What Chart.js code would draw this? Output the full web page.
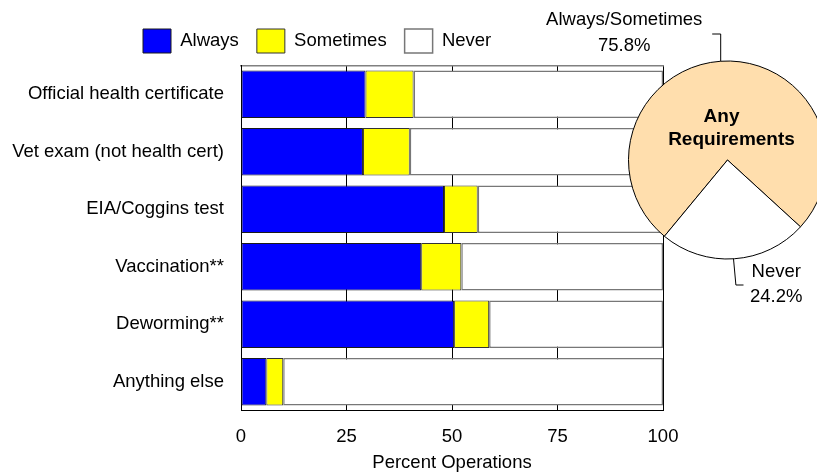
<!DOCTYPE html>
<html>
<head>
<meta charset="utf-8">
<script src="https://cdn.jsdelivr.net/npm/chart.js@4"></script>
<style>
  html, body { margin: 0; padding: 0; background: #fff; overflow: hidden; }
  #wrap { position: relative; width: 817px; height: 474px; overflow: hidden; }
  #bars { position: absolute; left: 0; top: 0; }
  #pie { position: absolute; left: 0; top: 0; pointer-events: none; }
</style>
</head>
<body>
<div id="wrap">
  <canvas id="bars" width="817" height="474"></canvas>
  <canvas id="pie" width="1455" height="320"></canvas>
</div>
<script>
// ---- data ----
const categories = ['Official health certificate', 'Vet exam (not health cert)', 'EIA/Coggins test', 'Vaccination**', 'Deworming**', 'Anything else'];
const seriesNames = ['Always', 'Sometimes', 'Never'];
const always    = [29.5, 28.9, 48.1, 42.7, 50.5, 6.0];
const sometimes = [11.4, 11.1, 8.0, 9.5, 8.3, 4.0];
const never     = [59.1, 60.0, 43.9, 47.8, 41.2, 90.0];
const xTicks = [0, 25, 50, 75, 100];
const xTitle = 'Percent Operations';

const anyLabels = ['Always/Sometimes', 'Never'];
const anyValues = [75.8, 24.2];
const anyTitle = ['Any', 'Requirements'];

// ---- style ----
const FAMILY = '"Liberation Sans", Arial, sans-serif';
const font = { family: FAMILY, size: 18.5 };
Chart.defaults.color = '#000';
Chart.defaults.font.family = FAMILY;

// shift the legend row so it starts where the reference's legend does
const legendShift = {
  id: 'legendShift',
  afterLayout(chart) {
    if (chart.legend) { chart.legend.left = 125; }
  }
};

new Chart(document.getElementById('bars'), {
  type: 'bar',
  data: {
    labels: categories,
    datasets: [
      { label: seriesNames[0], data: always, xAxisID: 'x', backgroundColor: '#0000ff', borderColor: '#1a1a1a', borderWidth: 1, borderSkipped: false },
      { label: seriesNames[1], data: sometimes, xAxisID: 'x', backgroundColor: '#ffff00', borderColor: '#333333', borderWidth: 1, borderSkipped: false },
      { label: seriesNames[2], data: never, xAxisID: 'x', backgroundColor: '#ffffff', borderColor: '#777777', borderWidth: 1.5, borderSkipped: false }
    ]
  },
  options: {
    indexAxis: 'y',
    responsive: false,
    animation: false,
    devicePixelRatio: 1,
    barPercentage: 0.826,
    categoryPercentage: 1,
    layout: { padding: { left: 0, right: 154, top: 11, bottom: 0 } },
    plugins: {
      legend: {
        display: true, position: 'top', align: 'start',
        labels: { boxWidth: 28, boxHeight: 24, padding: 18, font: font, color: '#000' }
      },
      tooltip: { enabled: false }
    },
    scales: {
      x: {
        type: 'linear', position: 'bottom', stacked: true, min: 0, max: 100,
        afterBuildTicks: (s) => { s.ticks = xTicks.map(v => ({ value: v })); },
        ticks: { padding: 15, font: font, color: '#000', maxRotation: 0 },
        grid: { color: '#000', lineWidth: 1, drawTicks: false },
        border: { display: true, color: '#000', width: 1 },
        title: { display: true, text: xTitle, font: font, color: '#000', padding: { top: 0, bottom: 0 } },
        afterFit: (s) => { s.height = 63.5; }
      },
      xTop: {
        type: 'linear', axis: 'x', position: 'top', min: 0, max: 100,
        ticks: { display: false },
        grid: { display: false, drawTicks: false },
        border: { display: true, color: '#808080', width: 1.5 },
        afterFit: (s) => { s.height = 2.5; }
      },
      y: {
        stacked: true,
        ticks: { padding: 17, font: font, color: '#000' },
        grid: { display: false, drawTicks: false },
        border: { display: true, color: '#000', width: 1 },
        afterFit: (s) => { s.width = 241; }
      }
    }
  },
  plugins: [legendShift]
});

const pieLabels = {
  id: 'pieLabels',
  afterDraw(chart) {
    const ctx = chart.ctx;
    const arc = chart.getDatasetMeta(0).data[0];
    const cx = arc.x, cy = arc.y, r = arc.outerRadius;
    ctx.save();
    ctx.fillStyle = '#000';
    ctx.textAlign = 'center';
    ctx.textBaseline = 'middle';
    ctx.font = 'bold 19px ' + FAMILY;
    ctx.fillText(anyTitle[0], cx - 6, cy - 43.3);
    ctx.fillText(anyTitle[1], cx + 4, cy - 20);
    ctx.font = '18.5px ' + FAMILY;
    ctx.fillText(anyLabels[0], cx - 103.3, cy - 140);
    ctx.fillText(anyValues[0].toFixed(1) + '%', cx - 103.3, cy - 114.5);
    ctx.fillText(anyLabels[1], cx + 48.7, cy + 111.7);
    ctx.fillText(anyValues[1].toFixed(1) + '%', cx + 48.7, cy + 136.7);
    ctx.strokeStyle = '#000';
    ctx.lineWidth = 1;
    ctx.beginPath();
    ctx.moveTo(cx - 15.3, cy - 126);
    ctx.lineTo(cx - 6.8, cy - 126);
    ctx.lineTo(cx - 6.8, cy - Math.sqrt(r * r - 6.8 * 6.8));
    ctx.stroke();
    ctx.beginPath();
    ctx.moveTo(cx + 6, cy + Math.sqrt(r * r - 36));
    ctx.lineTo(cx + 8.4, cy + 125);
    ctx.lineTo(cx + 16, cy + 125);
    ctx.stroke();
    ctx.restore();
  }
};

new Chart(document.getElementById('pie'), {
  type: 'pie',
  data: {
    labels: anyLabels,
    datasets: [{ data: anyValues, backgroundColor: ['#FFDEAD', '#ffffff'], borderColor: '#000', borderWidth: 1 }]
  },
  options: {
    responsive: false,
    animation: false,
    devicePixelRatio: 1,
    radius: 99,
    rotation: -140.4,
    layout: { padding: 0 },
    plugins: { legend: { display: false }, tooltip: { enabled: false } }
  },
  plugins: [pieLabels]
});
</script>
</body>
</html>
